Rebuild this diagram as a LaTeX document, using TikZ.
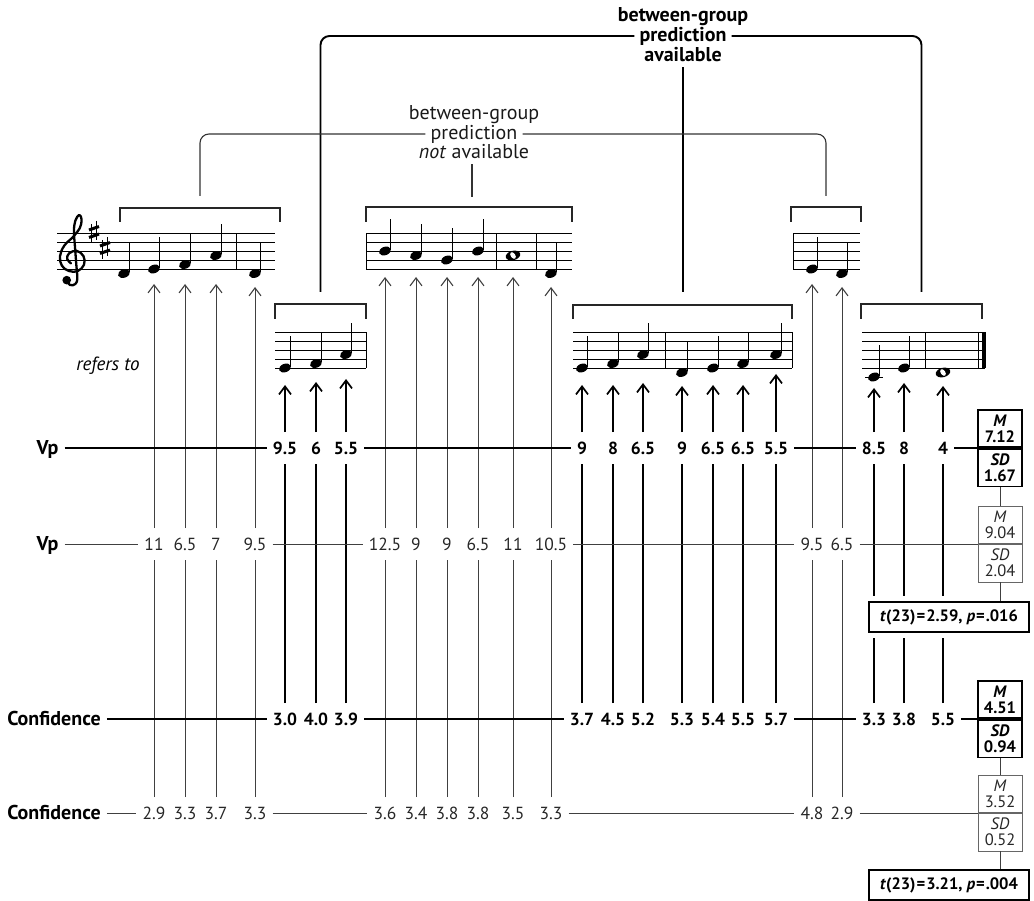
\documentclass[tikz,border=0pt]{standalone}
\usepackage{fontspec}
\setmainfont{PT Sans}
\usetikzlibrary{arrows.meta}

% five-line staff: x from, x to, y of the bottom line
\newcommand\staffat[3]{%
  \foreach \k in {0,...,4}{\draw[staffln] (#1,{#3-9*\k}) -- (#2,{#3-9*\k});}}
% bar line: x, y of the bottom line
\newcommand\barat[2]{\draw[staffln] (#1,#2) -- (#1,{#2-36});}
% quarter note with stem up: x, bottom line, half-steps above the bottom line
\newcommand\qnote[3]{%
  \pgfmathsetmacro\ny{#2-4.5*#3}
  \fill[rotate around={20:(#1,\ny)}] (#1,\ny) ellipse (6.2 and 4.2);
  \draw[line width=1pt] ({#1+5.5},{\ny-1}) -- ({#1+5.5},{\ny-31.5});}
% whole note
\newcommand\wnote[3]{%
  \pgfmathsetmacro\ny{#2-4.5*#3}
  \fill[rotate around={15:(#1,\ny)}] (#1,\ny) ellipse (7.4 and 4.7);
  \fill[white,rotate around={-55:(#1,\ny)}] (#1,\ny) ellipse (3.7 and 2.3);}
% sharp sign centred at x,y
\newcommand\sharpat[2]{%
  \draw[line width=1.1pt] ({#1-2.5},{#2-8}) -- ({#1-2.5},{#2+11});
  \draw[line width=1.1pt] ({#1+2.5},{#2-11}) -- ({#1+2.5},{#2+8});
  \draw[line width=3pt] ({#1-5},{#2-2}) -- ({#1+5},{#2-5.5});
  \draw[line width=3pt] ({#1-5},{#2+5.5}) -- ({#1+5},{#2+2});}
% bracket over a group of notes
\newcommand\brackat[4]{\draw[brk] (#1,#4) |- (#2,#3) -- (#2,#4);}

\begin{document}
\begin{tikzpicture}[x=1pt,y=-1pt,
  staffln/.style={line width=0.9pt},
  brk/.style={line width=1.2pt, draw=black!85},
  thinln/.style={line width=1pt, draw=black!75},
  boldln/.style={line width=1.9pt, draw=black},
  topB/.style={line width=1.9pt, rounded corners=9pt},
  topT/.style={line width=1.1pt, draw=black!80, rounded corners=9pt},
  tipT/.style={-{Straight Barb[length=8pt,width=12pt,line width=1.1pt]}},
  tipB/.style={-{Straight Barb[length=8pt,width=12pt,line width=1.7pt]}},
  lab/.style={inner xsep=6pt, inner ysep=9.5pt, text height=12.5pt, text depth=0pt,
    font=\fontsize{17.5}{17.5}\selectfont},
  numT/.style={lab, text=black!85},
  numB/.style={lab, font=\fontsize{17.5}{17.5}\selectfont\bfseries},
  rowlab/.style={lab, font=\fontsize{20}{20}\selectfont\bfseries},
  cell/.style={minimum width=44pt, minimum height=37.5pt, inner sep=0pt, align=center},
  cellB/.style={cell, draw, line width=1.8pt, font=\fontsize{16.5}{16}\selectfont\bfseries},
  cellT/.style={cell, draw=black!60, line width=0.9pt, text=black!85,
    font=\fontsize{16.5}{16}\selectfont},
  tbox/.style={draw, line width=1.8pt, fill=white, minimum width=160pt,
    minimum height=30pt, inner sep=0pt, font=\fontsize{16.5}{16.5}\selectfont\bfseries,
    preaction={draw=white, line width=12pt}},
  headB/.style={inner sep=5pt, font=\fontsize{20}{19}\selectfont\bfseries},
  headT/.style={inner sep=5pt, font=\fontsize{20}{19}\selectfont, text=black!90},
]
\useasboundingbox (0,0) rectangle (1034,901);

% ---------- staves ----------
\staffat{57}{275}{269}  \barat{236}{269}
\staffat{275}{366}{368} \barat{366}{368}
\staffat{366}{572}{269} \barat{366}{269} \barat{496}{269} \barat{536}{269}
\staffat{793}{860}{269} \barat{793}{269}
\staffat{573}{792}{368} \barat{665}{368} \barat{792}{368}
\staffat{862}{985}{368} \barat{925}{368} \barat{978}{368}
\fill (981.5,332) rectangle (985.5,368);

% treble clef and key signature
\begin{scope}[shift={(72,260)},x=9.6pt,y=9.6pt]
  \draw[line width=2.3pt,line cap=round,line join=round] plot[smooth,tension=0.65] coordinates {
    (-0.55,-2.05) (-0.2,-2.6) (0.35,-2.5) (0.55,-1.9) (0.45,-0.5) (0.3,1.5)
    (0.2,3.0) (0.35,4.1) (0.75,4.7) (1.0,4.2) (0.8,3.3) (0.1,2.4) (-0.8,1.5)
    (-1.25,0.4) (-1.05,-0.6) (-0.3,-1.15) (0.6,-1.15) (1.25,-0.5) (1.2,0.4)
    (0.5,0.95) (-0.3,0.7) (-0.5,0.1) (-0.1,-0.35)};
  \fill (-0.55,-2.1) circle (0.45);
\end{scope}
\sharpat{94}{232}
\sharpat{105}{248}

% notes
\qnote{124}{269}{-1} \qnote{154}{269}{0} \qnote{185}{269}{1} \qnote{216}{269}{3} \qnote{255}{269}{-1}
\qnote{285}{368}{0} \qnote{316}{368}{1} \qnote{346}{368}{3}
\qnote{385}{269}{4} \qnote{416}{269}{3} \qnote{447}{269}{2} \qnote{478}{269}{4}
\wnote{513}{269}{3} \qnote{551}{269}{-1}
\qnote{812}{269}{0} \qnote{842}{269}{-1}
\qnote{582}{368}{0} \qnote{613}{368}{1} \qnote{643}{368}{3}
\qnote{682}{368}{-1} \qnote{713}{368}{0} \qnote{743}{368}{1} \qnote{776}{368}{3}
\draw[staffln] (865,377) -- (883,377);
\qnote{874}{368}{-2} \qnote{904}{368}{0} \wnote{943}{368}{-1}

% brackets over the note groups
\brackat{120}{280}{208}{222}
\brackat{275}{366}{304}{319}
\brackat{366}{572}{207}{222}
\brackat{791}{861}{207}{222}
\brackat{573}{792}{305}{319}
\brackat{861}{982}{304}{319}

% ---------- group headings ----------
\node[headB] (pa1) at (683,17) {between-group};
\node[headB] (pa2) at (683,36) {prediction};
\node[headB] (pa3) at (683,55) {available};
\coordinate (c2) at (320.5,292);
\coordinate (c5) at (682.5,292);
\coordinate (c6) at (921.5,292);
\draw[topB] (pa2.west) -| (c2);
\draw[topB] (pa2.east) -| (c6);
\draw[line width=1.9pt] (pa3.south) -- (pa3.south |- c5);

\node[headT] (pn1) at (474,115) {between-group};
\node[headT] (pn2) at (474,134) {prediction};
\node[headT] (pn3) at (474,152) {\textit{not} available};
\coordinate (c1) at (200,196);
\coordinate (c3) at (472,197);
\coordinate (c4) at (826,196);
\draw[topT] (pn2.west) -| (c1);
\draw[topT] (pn2.east) -| (c4);
\draw[line width=1.1pt, draw=black!80] (pn3.south -| c3) -- (c3);

\node[font=\fontsize{19}{19}\selectfont\itshape] (ref) at (108,366) {refers to};

% ---------- row labels ----------
\node[rowlab] (vpB) at (47.5,448) {Vp};
\node[rowlab] (vpT) at (47.5,544) {Vp};
\node[rowlab] (cfB) at (54,719) {Confidence};
\node[rowlab] (cfT) at (54,813) {Confidence};

% ---------- columns: thin (name/x/tip/Vp/confidence) ----------
\foreach \n/\x/\ty/\v/\c in {
  1/154/284/11/2.9, 2/185/284/6.5/3.3, 3/216/284/7/3.7, 4/255/287/9.5/3.3,
  5/385/277/12.5/3.6, 6/416/277/9/3.4, 7/447/277/9/3.8, 8/478/277/6.5/3.8,
  9/513/277/11/3.5, 10/551/287/10.5/3.3, 11/812/284/9.5/4.8, 12/842/287/6.5/2.9}{
  \node[numT] (tv\n) at (\x,544) {\v};
  \node[numT] (tc\n) at (\x,813) {\c};
  \coordinate (tt\n) at (\x,\ty);
  \draw[thinln] (tc\n.north) -- (tv\n.south);
  \draw[thinln,tipT] (tv\n.north) -- (tt\n);
}
% ---------- columns: bold ----------
\foreach \n/\x/\ty/\v/\c in {
  1/285/385/9.5/3.0, 2/316/382/6/4.0, 3/346/379/5.5/3.9,
  4/582/385/9/3.7, 5/613/385/8/4.5, 6/643/383/6.5/5.2, 7/682/386/9/5.3,
  8/713/385/6.5/5.4, 9/743/385/6.5/5.5, 10/776/374/5.5/5.7,
  11/874/388/8.5/3.3, 12/904/383/8/3.8, 13/943/386/4/5.5}{
  \node[numB] (bv\n) at (\x,448) {\v};
  \node[numB] (bc\n) at (\x,719) {\c};
  \coordinate (bt\n) at (\x,\ty);
  \draw[boldln] (bc\n.north) -- (bv\n.south);
  \draw[boldln,tipB] (bv\n.north) -- (bt\n);
}

% ---------- summary boxes ----------
\node[cellB, anchor=south] (mVB) at (1000,448) {\textit{M}\\7.12};
\node[cellB, anchor=north] (sVB) at (1000,448) {\textit{SD}\\1.67};
\node[cellT, anchor=south] (mVT) at (1000,544) {\textit{M}\\9.04};
\node[cellT, anchor=north] (sVT) at (1000,544) {\textit{SD}\\2.04};
\node[cellB, anchor=south] (mCB) at (1000,719) {\textit{M}\\4.51};
\node[cellB, anchor=north] (sCB) at (1000,719) {\textit{SD}\\0.94};
\node[cellT, anchor=south] (mCT) at (1000,813) {\textit{M}\\3.52};
\node[cellT, anchor=north] (sCT) at (1000,813) {\textit{SD}\\0.52};

% ---------- row lines ----------
\draw[boldln] (vpB.east) -- (bv1.west);
\draw[boldln] (bv3.east) -- (bv4.west);
\draw[boldln] (bv10.east) -- (bv11.west);
\draw[boldln] (bv13.east) -- (mVB.south west);
\draw[thinln] (vpT.east) -- (tv1.west);
\draw[thinln] (tv4.east) -- (tv5.west);
\draw[thinln] (tv10.east) -- (tv11.west);
\draw[thinln] (tv12.east) -- (mVT.south west);
\draw[boldln] (cfB.east) -- (bc1.west);
\draw[boldln] (bc3.east) -- (bc4.west);
\draw[boldln] (bc10.east) -- (bc11.west);
\draw[boldln] (bc13.east) -- (mCB.south west);
\draw[thinln] (cfT.east) -- (tc1.west);
\draw[thinln] (tc4.east) -- (tc5.west);
\draw[thinln] (tc10.east) -- (tc11.west);
\draw[thinln] (tc12.east) -- (mCT.south west);

% ---------- t tests ----------
\node[tbox] (tV) at (949,617) {\textit{t}(23)\kern1pt=\kern1pt2.59, \textit{p}\kern1pt=\kern1pt.016};
\node[tbox] (tC) at (949,885) {\textit{t}(23)\kern1pt=\kern1pt3.21, \textit{p}\kern1pt=\kern1pt.004};
\draw[thinln] (sVB.south) -- (mVT.north);
\draw[thinln] (sVT.south) -- (sVT.south |- tV.north);
\draw[thinln] (sCB.south) -- (mCT.north);
\draw[thinln] (sCT.south) -- (sCT.south |- tC.north);
\end{tikzpicture}
\end{document}
